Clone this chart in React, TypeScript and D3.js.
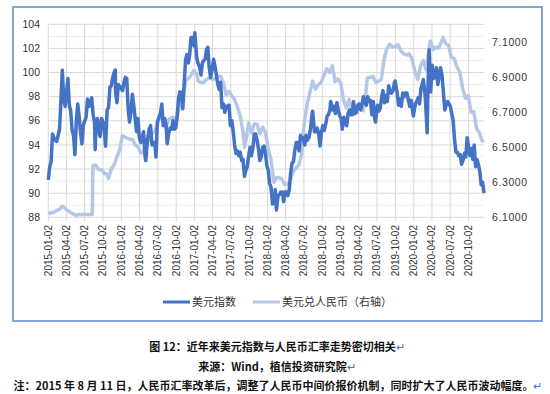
import * as d3 from 'd3';

// 美元指数（左轴）
const usdIndex: [string, number][] = [
  ['2015-01-02', 91.1], ['2015-01-09', 92.2], ['2015-01-16', 92.6], ['2015-01-23', 94.9], ['2015-01-30', 94.6],
  ['2015-02-06', 94.4], ['2015-02-13', 94.3], ['2015-02-20', 94.8], ['2015-02-27', 95.3], ['2015-03-06', 97.6],
  ['2015-03-13', 100.2], ['2015-03-20', 97.8], ['2015-03-27', 97.2], ['2015-04-03', 98.4], ['2015-04-10', 99.5],
  ['2015-04-17', 97.3], ['2015-04-24', 96.8], ['2015-05-01', 95.2], ['2015-05-08', 94.8], ['2015-05-15', 93.2],
  ['2015-05-22', 96.0], ['2015-05-29', 97.4], ['2015-06-05', 96.4], ['2015-06-12', 95.0], ['2015-06-19', 94.1],
  ['2015-06-26', 95.6], ['2015-07-03', 96.0], ['2015-07-10', 96.3], ['2015-07-17', 97.8], ['2015-07-24', 97.2],
  ['2015-07-31', 97.5], ['2015-08-07', 97.9], ['2015-08-14', 96.5], ['2015-08-21', 95.9], ['2015-08-24', 93.6],
  ['2015-08-28', 95.3], ['2015-09-04', 96.2], ['2015-09-11', 95.2], ['2015-09-18', 94.7], ['2015-09-25', 96.2],
  ['2015-10-02', 95.9], ['2015-10-09', 95.2], ['2015-10-15', 93.9], ['2015-10-23', 96.9], ['2015-10-30', 97.1],
  ['2015-11-06', 98.8], ['2015-11-13', 98.9], ['2015-11-20', 99.6], ['2015-11-27', 100.0], ['2015-12-03', 100.2],
  ['2015-12-04', 98.4], ['2015-12-11', 97.5], ['2015-12-18', 99.0], ['2015-12-31', 98.7],
  ['2016-01-08', 98.5], ['2016-01-15', 99.2], ['2016-01-22', 99.6], ['2016-01-29', 99.5], ['2016-02-05', 97.0],
  ['2016-02-12', 95.9], ['2016-02-19', 96.7], ['2016-02-26', 98.2], ['2016-03-04', 97.3], ['2016-03-11', 96.2],
  ['2016-03-18', 95.1], ['2016-03-25', 96.2], ['2016-04-01', 94.6], ['2016-04-08', 94.2], ['2016-04-15', 94.6],
  ['2016-04-22', 95.1], ['2016-04-29', 93.1], ['2016-05-03', 92.7], ['2016-05-13', 94.6], ['2016-05-20', 95.3],
  ['2016-05-27', 95.6], ['2016-06-03', 94.0], ['2016-06-10', 94.2], ['2016-06-17', 94.2], ['2016-06-23', 93.0],
  ['2016-06-30', 95.9], ['2016-07-08', 96.3], ['2016-07-15', 96.6], ['2016-07-22', 97.4], ['2016-07-29', 95.6],
  ['2016-08-05', 96.2], ['2016-08-12', 95.7], ['2016-08-18', 94.1], ['2016-08-26', 95.0], ['2016-09-02', 95.4],
  ['2016-09-09', 95.3], ['2016-09-16', 96.0], ['2016-09-23', 95.3], ['2016-09-30', 95.4], ['2016-10-07', 96.4],
  ['2016-10-14', 97.9], ['2016-10-21', 98.4], ['2016-10-28', 98.3], ['2016-11-04', 97.0], ['2016-11-10', 98.8],
  ['2016-11-18', 101.1], ['2016-11-25', 101.5], ['2016-12-02', 100.8], ['2016-12-09', 101.6], ['2016-12-15', 102.9],
  ['2016-12-23', 102.9], ['2016-12-30', 102.2],
  ['2017-01-03', 103.3], ['2017-01-10', 101.8], ['2017-01-13', 101.2], ['2017-01-20', 100.7], ['2017-01-27', 100.5],
  ['2017-02-03', 99.8], ['2017-02-10', 100.8], ['2017-02-17', 101.0], ['2017-02-24', 101.1], ['2017-03-02', 101.9],
  ['2017-03-09', 102.1], ['2017-03-16', 100.4], ['2017-03-23', 99.6], ['2017-03-31', 100.3], ['2017-04-07', 101.1],
  ['2017-04-13', 100.6], ['2017-04-21', 99.8], ['2017-04-28', 99.0], ['2017-05-05', 98.6], ['2017-05-12', 99.2],
  ['2017-05-19', 97.1], ['2017-05-26', 97.4], ['2017-06-02', 96.7], ['2017-06-09', 97.2], ['2017-06-16', 97.2],
  ['2017-06-23', 97.3], ['2017-06-30', 95.6], ['2017-07-07', 96.0], ['2017-07-14', 95.1], ['2017-07-21', 94.0],
  ['2017-07-28', 93.3], ['2017-08-04', 93.5], ['2017-08-11', 93.1], ['2017-08-18', 93.4], ['2017-08-25', 92.7],
  ['2017-09-01', 92.8], ['2017-09-08', 91.4], ['2017-09-15', 91.9], ['2017-09-22', 92.2], ['2017-09-29', 93.1],
  ['2017-10-06', 93.8], ['2017-10-13', 93.1], ['2017-10-20', 93.7], ['2017-10-27', 94.9], ['2017-11-03', 94.9],
  ['2017-11-10', 94.4], ['2017-11-17', 93.7], ['2017-11-24', 92.7], ['2017-12-01', 93.0], ['2017-12-08', 93.8],
  ['2017-12-15', 93.9], ['2017-12-22', 93.3], ['2017-12-29', 92.3],
  ['2018-01-05', 91.9], ['2018-01-12', 90.8], ['2018-01-19', 90.5], ['2018-01-26', 89.1], ['2018-02-02', 89.2],
  ['2018-02-09', 90.3], ['2018-02-15', 88.6], ['2018-02-23', 89.8], ['2018-03-02', 89.9], ['2018-03-09', 90.1],
  ['2018-03-16', 90.1], ['2018-03-23', 89.3], ['2018-03-30', 90.1], ['2018-04-06', 90.1], ['2018-04-13', 89.8],
  ['2018-04-20', 90.3], ['2018-04-27', 91.7], ['2018-05-04', 92.5], ['2018-05-11', 92.6], ['2018-05-18', 93.6],
  ['2018-05-25', 94.2], ['2018-06-01', 94.2], ['2018-06-08', 93.5], ['2018-06-15', 94.8], ['2018-06-22', 94.5],
  ['2018-06-29', 94.6], ['2018-07-06', 94.0], ['2018-07-13', 94.8], ['2018-07-20', 94.4], ['2018-07-27', 94.6],
  ['2018-08-03', 95.2], ['2018-08-10', 96.3], ['2018-08-15', 96.8], ['2018-08-24', 95.1], ['2018-08-31', 95.1],
  ['2018-09-07', 95.4], ['2018-09-14', 94.9], ['2018-09-21', 93.9], ['2018-09-28', 95.1], ['2018-10-05', 95.6],
  ['2018-10-12', 95.2], ['2018-10-19', 95.7], ['2018-10-26', 96.4], ['2018-11-02', 96.5], ['2018-11-09', 96.9],
  ['2018-11-13', 97.6], ['2018-11-23', 96.9], ['2018-11-30', 97.2], ['2018-12-07', 96.6], ['2018-12-14', 97.5],
  ['2018-12-21', 96.9], ['2018-12-28', 96.4],
  ['2019-01-04', 96.2], ['2019-01-10', 95.3], ['2019-01-18', 96.3], ['2019-01-25', 95.8], ['2019-02-01', 95.6],
  ['2019-02-08', 96.6], ['2019-02-15', 96.9], ['2019-02-22', 96.5], ['2019-03-01', 96.5], ['2019-03-07', 97.6],
  ['2019-03-15', 96.6], ['2019-03-22', 96.7], ['2019-03-29', 97.3], ['2019-04-05', 97.4], ['2019-04-12', 96.9],
  ['2019-04-19', 97.4], ['2019-04-26', 98.0], ['2019-05-03', 97.5], ['2019-05-10', 97.3], ['2019-05-17', 98.0],
  ['2019-05-24', 97.6], ['2019-05-31', 97.7], ['2019-06-07', 96.5], ['2019-06-14', 97.6], ['2019-06-21', 96.2],
  ['2019-06-25', 95.9], ['2019-07-05', 97.3], ['2019-07-12', 96.8], ['2019-07-19', 97.1], ['2019-07-26', 98.0],
  ['2019-08-01', 98.5], ['2019-08-09', 97.5], ['2019-08-16', 98.1], ['2019-08-23', 97.6], ['2019-08-30', 98.9],
  ['2019-09-06', 98.4], ['2019-09-13', 98.3], ['2019-09-20', 98.5], ['2019-09-27', 99.1], ['2019-10-01', 99.3],
  ['2019-10-11', 98.3], ['2019-10-18', 97.3], ['2019-10-25', 97.8], ['2019-11-01', 97.2], ['2019-11-08', 98.3],
  ['2019-11-15', 98.0], ['2019-11-22', 98.3], ['2019-11-29', 98.3], ['2019-12-06', 97.7], ['2019-12-13', 97.2],
  ['2019-12-20', 97.7], ['2019-12-31', 96.4],
  ['2020-01-10', 97.4], ['2020-01-17', 97.6], ['2020-01-24', 97.9], ['2020-01-31', 97.4], ['2020-02-07', 98.7],
  ['2020-02-14', 99.1], ['2020-02-19', 99.4], ['2020-02-28', 98.1], ['2020-03-06', 96.0], ['2020-03-09', 95.0],
  ['2020-03-13', 98.7], ['2020-03-19', 101.9], ['2020-03-27', 98.4], ['2020-04-03', 100.6], ['2020-04-10', 99.5],
  ['2020-04-17', 99.8], ['2020-04-24', 100.4], ['2020-05-01', 99.0], ['2020-05-08', 99.7], ['2020-05-15', 100.4],
  ['2020-05-22', 99.8], ['2020-05-29', 98.4], ['2020-06-05', 96.9], ['2020-06-12', 97.3], ['2020-06-19', 97.6],
  ['2020-06-26', 97.4], ['2020-07-03', 97.2], ['2020-07-10', 96.6], ['2020-07-17', 96.0], ['2020-07-24', 94.4],
  ['2020-07-31', 93.4], ['2020-08-07', 93.4], ['2020-08-14', 93.1], ['2020-08-21', 93.2], ['2020-08-28', 92.4],
  ['2020-09-04', 92.7], ['2020-09-11', 93.3], ['2020-09-18', 93.0], ['2020-09-25', 94.6], ['2020-10-02', 93.8],
  ['2020-10-09', 93.1], ['2020-10-16', 93.7], ['2020-10-23', 92.8], ['2020-10-30', 94.0], ['2020-11-06', 92.2],
  ['2020-11-13', 92.8], ['2020-11-20', 92.4], ['2020-11-27', 91.8], ['2020-12-04', 90.7], ['2020-12-11', 90.9],
  ['2020-12-18', 90.0],
];

// 美元兑人民币（右轴）
const usdCny: [string, number][] = [
  ['2015-01-02', 6.119], ['2015-01-16', 6.127], ['2015-01-30', 6.128], ['2015-02-13', 6.139], ['2015-02-27', 6.145],
  ['2015-03-13', 6.164], ['2015-03-27', 6.150], ['2015-04-10', 6.138], ['2015-04-24', 6.127], ['2015-05-08', 6.118],
  ['2015-05-22', 6.111], ['2015-06-05', 6.117], ['2015-06-19', 6.114], ['2015-07-03', 6.117], ['2015-07-17', 6.116],
  ['2015-07-31', 6.116], ['2015-08-10', 6.116], ['2015-08-12', 6.330], ['2015-08-14', 6.397], ['2015-08-28', 6.396],
  ['2015-09-11', 6.372], ['2015-09-25', 6.370], ['2015-10-09', 6.350], ['2015-10-23', 6.347], ['2015-10-30', 6.322],
  ['2015-11-13', 6.376], ['2015-11-27', 6.398], ['2015-12-11', 6.444], ['2015-12-25', 6.486],
  ['2016-01-07', 6.565], ['2016-01-15', 6.561], ['2016-01-29', 6.552], ['2016-02-12', 6.545], ['2016-02-26', 6.545],
  ['2016-03-11', 6.513], ['2016-03-25', 6.502], ['2016-04-08', 6.466], ['2016-04-22', 6.476], ['2016-05-06', 6.506],
  ['2016-05-20', 6.545], ['2016-06-03', 6.576], ['2016-06-17', 6.590], ['2016-06-30', 6.631], ['2016-07-15', 6.681],
  ['2016-07-29', 6.644], ['2016-08-12', 6.613], ['2016-08-26', 6.655], ['2016-09-09', 6.669], ['2016-09-23', 6.669],
  ['2016-10-07', 6.673], ['2016-10-21', 6.758], ['2016-11-04', 6.771], ['2016-11-18', 6.880], ['2016-12-02', 6.890],
  ['2016-12-16', 6.910], ['2016-12-30', 6.937],
  ['2017-01-06', 6.922], ['2017-01-13', 6.917], ['2017-01-20', 6.877], ['2017-02-03', 6.868], ['2017-02-17', 6.870],
  ['2017-03-03', 6.885], ['2017-03-17', 6.897], ['2017-03-31', 6.887], ['2017-04-14', 6.888], ['2017-04-28', 6.903],
  ['2017-05-12', 6.904], ['2017-05-26', 6.866], ['2017-06-09', 6.795], ['2017-06-23', 6.818], ['2017-07-07', 6.790],
  ['2017-07-21', 6.771], ['2017-08-04', 6.728], ['2017-08-18', 6.676], ['2017-09-01', 6.590], ['2017-09-08', 6.500],
  ['2017-09-15', 6.536], ['2017-09-29', 6.637], ['2017-10-13', 6.582], ['2017-10-27', 6.632], ['2017-11-10', 6.630],
  ['2017-11-24', 6.576], ['2017-12-08', 6.614], ['2017-12-22', 6.585],
  ['2018-01-05', 6.490], ['2018-01-19', 6.428], ['2018-02-02', 6.299], ['2018-02-14', 6.325], ['2018-02-28', 6.327],
  ['2018-03-14', 6.317], ['2018-03-28', 6.287], ['2018-04-11', 6.289], ['2018-04-25', 6.310], ['2018-05-09', 6.360],
  ['2018-05-23', 6.379], ['2018-06-06', 6.397], ['2018-06-20', 6.454], ['2018-07-04', 6.639], ['2018-07-18', 6.744],
  ['2018-08-01', 6.813], ['2018-08-15', 6.876], ['2018-08-29', 6.830], ['2018-09-12', 6.856], ['2018-09-26', 6.869],
  ['2018-10-10', 6.907], ['2018-10-24', 6.946], ['2018-11-07', 6.924], ['2018-11-21', 6.965], ['2018-12-05', 6.873],
  ['2018-12-19', 6.889],
  ['2019-01-02', 6.865], ['2019-01-16', 6.769], ['2019-01-30', 6.723], ['2019-02-13', 6.773], ['2019-02-27', 6.699],
  ['2019-03-13', 6.713], ['2019-03-27', 6.723], ['2019-04-10', 6.724], ['2019-04-24', 6.707], ['2019-05-08', 6.814],
  ['2019-05-15', 6.895], ['2019-05-29', 6.897], ['2019-06-12', 6.904], ['2019-06-26', 6.869], ['2019-07-10', 6.875],
  ['2019-07-24', 6.886], ['2019-08-07', 7.004], ['2019-08-21', 7.061], ['2019-09-04', 7.087], ['2019-09-18', 7.070],
  ['2019-10-02', 7.073], ['2019-10-16', 7.083], ['2019-10-30', 7.048], ['2019-11-13', 7.032], ['2019-11-27', 7.025],
  ['2019-12-11', 7.032], ['2019-12-25', 7.000],
  ['2020-01-08', 6.929], ['2020-01-22', 6.886], ['2020-02-05', 6.962], ['2020-02-19', 6.993], ['2020-03-04', 6.940],
  ['2020-03-18', 7.059], ['2020-03-25', 7.105], ['2020-04-08', 7.057], ['2020-04-22', 7.069], ['2020-05-06', 7.065],
  ['2020-05-20', 7.102], ['2020-05-27', 7.126], ['2020-06-10', 7.089], ['2020-06-24', 7.080], ['2020-07-08', 7.012],
  ['2020-07-22', 7.004], ['2020-08-05', 6.956], ['2020-08-19', 6.928], ['2020-09-02', 6.836], ['2020-09-16', 6.778],
  ['2020-09-30', 6.794], ['2020-10-14', 6.700], ['2020-10-28', 6.702], ['2020-11-11', 6.605], ['2020-11-25', 6.583],
  ['2020-12-09', 6.535], ['2020-12-18', 6.540],
];

const dateTicks = [
  '2015-01-02', '2015-04-02', '2015-07-02', '2015-10-02', '2016-01-02', '2016-04-02', '2016-07-02', '2016-10-02',
  '2017-01-02', '2017-04-02', '2017-07-02', '2017-10-02', '2018-01-02', '2018-04-02', '2018-07-02', '2018-10-02',
  '2019-01-02', '2019-04-02', '2019-07-02', '2019-10-02', '2020-01-02', '2020-04-02', '2020-07-02', '2020-10-02',
];
const leftTicks = [88, 90, 92, 94, 96, 98, 100, 102, 104];
const rightTicks = [6.1, 6.3, 6.5, 6.7, 6.9, 7.1];

const DARK = '#4472C4';
const LIGHT = '#B4C7E7';
const parse = d3.utcParse('%Y-%m-%d');

export default function App() {
  const x = d3.scaleUtc()
    .domain([parse('2015-01-02')!, parse('2020-12-18')!])
    .range([48.3, 484]);
  const yL = d3.scaleLinear().domain([88, 104]).range([217.3, 24.3]);
  const yR = d3.scaleLinear().domain([6.1, 7.2]).range([217.3, 24.3]);

  const lineL = d3.line<[string, number]>()
    .x(d => x(parse(d[0])!))
    .y(d => yL(d[1]));
  const lineR = d3.line<[string, number]>()
    .x(d => x(parse(d[0])!))
    .y(d => yR(d[1]));

  const minor = d3.range(89, 104, 2);
  const axisFont = '"Liberation Sans", Arial, sans-serif';
  const cjkFont = '"Noto Sans CJK SC", "Noto Sans", sans-serif';

  return (
    <svg width={550} height={394} style={{ position: 'absolute', left: 0, top: 0, background: '#fff' }}>
      <rect x={13} y={7} width={529} height={314} fill="#fff" stroke="#5B85CC" strokeWidth={1.5} />

      {/* grid */}
      {minor.map(v => (
        <line key={'m' + v} x1={48.3} x2={484} y1={yL(v)} y2={yL(v)} stroke="#EEEEEE" strokeWidth={1} />
      ))}
      {leftTicks.map(v => (
        <line key={'h' + v} x1={48.3} x2={484} y1={yL(v)} y2={yL(v)} stroke="#D9D9D9" strokeWidth={1} />
      ))}
      {dateTicks.map(t => (
        <line key={'v' + t} x1={x(parse(t)!)} x2={x(parse(t)!)} y1={24.3} y2={221} stroke="#D9D9D9" strokeWidth={1} />
      ))}

      {/* series */}
      <path d={lineR(usdCny) ?? ''} fill="none" stroke={LIGHT} strokeWidth={3.5} strokeLinejoin="round" />
      <path d={lineL(usdIndex) ?? ''} fill="none" stroke={DARK} strokeWidth={3.5} strokeLinejoin="round" />

      {/* left axis */}
      {leftTicks.map(v => (
        <text key={'l' + v} x={40} y={yL(v)} dy="0.35em" textAnchor="end" fontSize={10.5} fontFamily={axisFont} fill="#333">
          {v}
        </text>
      ))}
      {/* right axis */}
      {rightTicks.map(v => (
        <text key={'r' + v} x={492} y={yR(v)} dy="0.35em" fontSize={10.5} fontFamily={axisFont} fill="#333" letterSpacing={0.6}>
          {v.toFixed(4)}
        </text>
      ))}
      {/* date labels */}
      {dateTicks.map(t => (
        <text key={'d' + t} transform={`translate(${x(parse(t)!)},225) rotate(-90)`} dy="0.35em" textAnchor="end"
          fontSize={10} fontFamily={axisFont} fill="#333">
          {t}
        </text>
      ))}

      {/* legend */}
      <line x1={163} x2={190} y1={302} y2={302} stroke={DARK} strokeWidth={3} />
      <text x={192} y={302} dy="0.35em" fontSize={11} fontFamily={cjkFont} fill="#333">美元指数</text>
      <line x1={253} x2={280} y1={302} y2={302} stroke={LIGHT} strokeWidth={3} />
      <text x={282} y={302} dy="0.35em" fontSize={11} fontFamily={cjkFont} fill="#333">美元兑人民币（右轴）</text>

      {/* captions */}
      <text x={277} y={347} dy="0.35em" textAnchor="middle" fontSize={11} fontWeight="bold" fontFamily={cjkFont} fill="#111">
        图 12：近年来美元指数与人民币汇率走势密切相关<tspan fill={DARK} fontWeight="normal">↵</tspan>
      </text>
      <text x={277} y={367} dy="0.35em" textAnchor="middle" fontSize={11} fontWeight="bold" fontFamily={cjkFont} fill="#111">
        来源：Wind，植信投资研究院<tspan fill={DARK} fontWeight="normal">↵</tspan>
      </text>
      <text x={278} y={386} dy="0.35em" textAnchor="middle" fontSize={11} fontWeight="bold" fontFamily={cjkFont} fill="#111">
        注：2015 年 8 月 11 日，人民币汇率改革后，调整了人民币中间价报价机制，同时扩大了人民币波动幅度。<tspan fill={DARK} fontWeight="normal">↵</tspan>
      </text>
    </svg>
  );
}
